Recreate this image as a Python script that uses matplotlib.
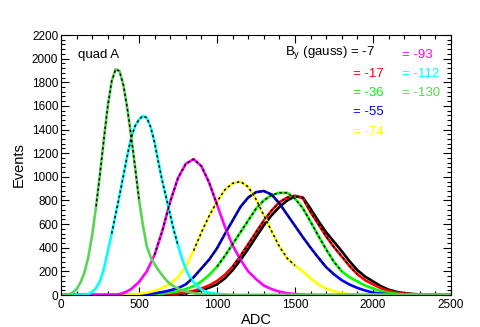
import matplotlib
matplotlib.use("Agg")
import matplotlib.pyplot as plt
import numpy as np

plt.rcParams['font.family'] = ['Liberation Sans', 'DejaVu Sans']
plt.rcParams['mathtext.fontset'] = 'custom'
plt.rcParams['mathtext.rm'] = 'Liberation Sans'

# ADC bins (every 50 counts) and event counts
adc = list(range(0, 2550, 50))
# finer bins for the two narrow peaks, plus the axis end
adc_fine = list(range(0, 1225, 25)) + [2500]

by_gauss = ['-7', '-17', '-36', '-55', '-74', '-93', '-112', '-130']
colors = ['#000000', '#ff0000', '#00ff00', '#0000ff', '#ffff00', '#ff00ff', '#00ffff', '#59d454']

ev_m7 = [0]*12 + [1, 3, 5, 9, 15, 25, 40, 62, 90, 140, 210, 295, 390, 490, 590, 675, 745, 800,
                  835, 825, 730, 625, 530, 450, 370, 285, 210, 155, 115, 75, 45, 27, 15, 9, 5, 2, 1, 0, 0]
ev_m17 = [0]*12 + [2, 4, 8, 14, 22, 35, 55, 82, 118, 170, 240, 330, 430, 530, 630, 715, 785, 825,
                   840, 820, 700, 600, 495, 405, 325, 245, 175, 125, 90, 58, 35, 20, 11, 6, 3, 1, 0, 0, 0]
ev_m36 = [0]*10 + [2, 4, 7, 12, 20, 32, 50, 75, 115, 170, 240, 330, 430, 530, 630, 730, 800, 845, 865,
                   865, 815, 735, 620, 500, 385, 280, 200, 150, 115, 80, 55, 32, 18, 10, 5, 2, 1, 0, 0, 0, 0]
ev_m55 = [0]*9 + [2, 4, 8, 15, 25, 40, 58, 90, 150, 225, 300, 395, 515, 630, 745, 825, 870, 880, 850,
                  775, 680, 585, 490, 400, 315, 235, 175, 125, 88, 60, 38, 20, 12, 6, 3, 1, 0, 0, 0, 0, 0, 0]
ev_m74 = [0]*8 + [2, 5, 10, 20, 35, 60, 95, 150, 240, 375, 530, 670, 790, 890, 945, 960, 915, 810, 675,
                  540, 410, 310, 250, 200, 140, 90, 55, 32, 15, 6, 3, 1] + [0]*11
ev_m93 = [0]*7 + [2, 15, 50, 110, 200, 340, 545, 790, 990, 1110, 1150, 1090, 950, 765, 580, 420, 300,
                  200, 135, 80, 50, 28, 15, 8, 4, 2] + [0]*18
ev_m112 = [0, 0, 0, 0, 0, 1, 3, 8, 25, 60, 118, 220, 370, 520, 680, 840, 1010, 1180, 1330, 1430,
           1485, 1515, 1500, 1420, 1290, 1120, 960, 820, 680, 540, 420, 310, 220, 150, 110, 75, 45,
           30, 20, 14, 10, 7, 5, 3, 2, 1, 0, 0, 0, 0]
ev_m130 = [0, 0, 5, 20, 50, 105, 190, 320, 510, 750, 1025, 1320, 1600, 1810, 1910, 1895, 1775, 1580,
           1340, 1080, 810, 590, 410, 320, 260, 210, 165, 125, 93, 72, 55, 40, 30, 22, 15, 11, 8, 5,
           4, 3, 2, 1, 1, 0, 0, 0, 0, 0, 0, 0]

series = [ev_m7, ev_m17, ev_m36, ev_m55, ev_m74, ev_m93, ev_m112, ev_m130]
xs = [adc]*6 + [adc_fine, adc_fine]

# ranges covered by the dashed fits
fit_lo = [1100, 1100, 1000, 800, 850, 600, 325, 225]
fit_hi = [1950, 1900, 1800, 1750, 1500, 1000, 750, 500]

fig = plt.figure(figsize=(4.8, 3.27), dpi=100)
ax = fig.add_axes([61/480, 32/327, 390/480, 260/327])

for x, ev, c in zip(xs, series, colors):
    ax.plot(x, ev, color=c, lw=1.9, solid_joinstyle='round')

for x, ev, lo, hi in zip(xs, series, fit_lo, fit_hi):
    x = np.array(x)
    m = (x >= lo) & (x <= hi)
    ax.plot(x[m], np.array(ev)[m], color='black', lw=1.1, ls=(0, (1.6, 1.8)))

ax.set_xlim(0, 2500)
ax.set_ylim(0, 2200)
ax.set_xticks(range(0, 2501, 500))
ax.set_xticks(range(0, 2501, 100), minor=True)
ax.set_yticks(range(0, 2201, 200))
ax.set_yticks(range(0, 2201, 40), minor=True)
ax.tick_params(which='both', direction='in', top=True, right=True, labelsize=8.5, width=0.8)
ax.tick_params(which='major', length=6)
ax.tick_params(which='minor', length=3)
ax.tick_params(axis='x', pad=3)
ax.tick_params(axis='y', pad=2)
for s in ax.spines.values():
    s.set_linewidth(0.8)

ax.set_xlabel('ADC', fontsize=10.5, labelpad=1)
ax.set_ylabel('Events', fontsize=10.5, labelpad=4)

def put(px, py, txt, col):
    fig.text(px/480, 1 - py/327, txt, color=col, fontsize=9.5, va='center', ha='left')

put(78, 55, 'quad A', 'black')
put(285, 53, r'B$_\mathrm{y}$ (gauss) = -7', 'black')
put(353, 74, '= -17', colors[1])
put(353, 93, '= -36', colors[2])
put(353, 112, '= -55', colors[3])
put(353, 132, '= -74', colors[4])
put(402, 55, '= -93', colors[5])
put(402, 74, '= -112', colors[6])
put(402, 93, '= -130', colors[7])

fig.savefig('out.png', dpi=100)
